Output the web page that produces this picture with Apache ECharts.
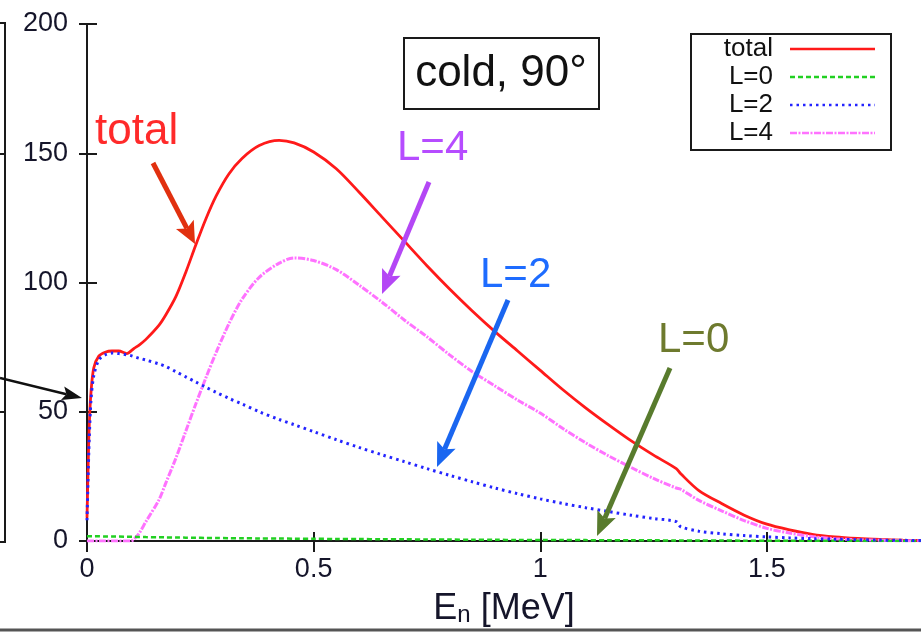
<!DOCTYPE html>
<html>
<head>
<meta charset="utf-8">
<script src="https://cdn.jsdelivr.net/npm/echarts@6/dist/echarts.min.js"></script>
<style>
  html, body { margin: 0; padding: 0; background: #fff; }
  #chart { width: 921px; height: 632px; }
</style>
</head>
<body>
<div id="chart"></div>
<script>
// Neutron energy grid [MeV] shared by all curves
const energy = [0, 0.002, 0.005, 0.009, 0.015, 0.026, 0.04, 0.055, 0.07, 0.088,
  0.097, 0.104, 0.115, 0.13, 0.159, 0.174, 0.196, 0.218, 0.24, 0.262,
  0.285, 0.313, 0.342, 0.38, 0.424, 0.457, 0.5, 0.55, 0.6, 0.65,
  0.7, 0.75, 0.8, 0.85, 0.9, 0.95, 1.0, 1.05, 1.1, 1.15,
  1.2, 1.25, 1.3, 1.31, 1.35, 1.4, 1.45, 1.5, 1.55, 1.6,
  1.65, 1.7, 1.75, 1.8, 1.84];

// Spectrum components
const totalYield = [9, 25, 45, 58, 67, 71.5, 73, 73.5, 73.5, 72.5,
  73.5, 74.5, 75.8, 78, 83.5, 87.5, 94.5, 104, 114.5, 124.5,
  133.5, 142, 148, 153, 155, 154, 150.5, 144, 135, 125.5,
  116, 106.5, 97.5, 89, 81, 73.5, 66, 58.5, 51.5, 45,
  38.8, 33.2, 28, 26, 19.5, 14.5, 10, 6.5, 4.3, 2.6,
  1.6, 1.0, 0.6, 0.3, 0.2];

const yieldL0 = [1.8, 1.8, 1.8, 1.8, 1.8, 1.8, 1.75, 1.7, 1.7, 1.65,
  1.6, 1.6, 1.55, 1.5, 1.45, 1.4, 1.35, 1.3, 1.25, 1.2,
  1.15, 1.1, 1.05, 1.0, 0.95, 0.9, 0.85, 0.8, 0.75, 0.7,
  0.65, 0.6, 0.55, 0.5, 0.45, 0.42, 0.4, 0.37, 0.34, 0.31,
  0.28, 0.25, 0.22, 0.21, 0.19, 0.16, 0.14, 0.12, 0.1, 0.08,
  0.06, 0.05, 0.04, 0.03, 0.02];

const yieldL2 = [8, 22, 40, 55, 64, 70, 72, 72.7, 72.5, 72,
  71.7, 71.3, 70.7, 70, 68.5, 67.5, 65.5, 63.5, 61.5, 59.5,
  57.5, 55.2, 53, 50, 47, 45, 42.3, 39.2, 36.2, 33.4,
  30.7, 28, 25.4, 22.9, 20.5, 18.3, 16.3, 14.5, 12.9, 11.4,
  10, 8.7, 7.5, 5.5, 3.8, 2.8, 2.1, 1.6, 1.2, 0.9,
  0.7, 0.5, 0.35, 0.25, 0.2];

const yieldL4 = [0, 0, 0, 0, 0, 0, 0, 0, 0, 0,
  0, 0.8, 3, 7.5, 16, 22.5, 32, 42.5, 53, 63,
  73, 84, 93.5, 102, 107.5, 109.5, 108.5, 105, 99, 92.5,
  85.5, 79, 72, 65.5, 60, 54.5, 49.5, 43.5, 38, 33,
  28.5, 24.2, 20.5, 20, 15.7, 11.7, 7.9, 4.9, 3.1, 1.7,
  0.9, 0.5, 0.25, 0.1, 0.05];

const seriesNames = ['total', 'L=0', 'L=2', 'L=4'];
const yTickValues = [0, 50, 100, 150, 200];
const xTickValues = [0, 0.5, 1, 1.5];

const FONT = '"Liberation Sans", Arial, Helvetica, sans-serif';
const pairs = (ys) => energy.map((e, i) => [e, ys[i]]);

// Straight arrow with a filled, slightly notched head
function arrow(x1, y1, x2, y2, color, width, headLen, headHalf) {
  const dx = x2 - x1, dy = y2 - y1, len = Math.hypot(dx, dy);
  const ux = dx / len, uy = dy / len, nx = -uy, ny = ux;
  const bx = x2 - ux * headLen, by = y2 - uy * headLen;
  const notchX = x2 - ux * headLen * 0.8, notchY = y2 - uy * headLen * 0.8;
  return [
    { type: 'line', z: 50, silent: true,
      shape: { x1: x1, y1: y1, x2: notchX, y2: notchY },
      style: { stroke: color, lineWidth: width } },
    { type: 'polygon', z: 50, silent: true,
      shape: { points: [[x2, y2], [bx + nx * headHalf, by + ny * headHalf],
                        [notchX, notchY], [bx - nx * headHalf, by - ny * headHalf]] },
      style: { fill: color } }
  ];
}

function label(text, x, y, color, size) {
  return { type: 'text', z: 50, silent: true, x: x, y: y,
    style: { text: text, fill: color, font: size + 'px ' + FONT,
             textAlign: 'left', textVerticalAlign: 'middle' } };
}

const chart = echarts.init(document.getElementById('chart'), null, { renderer: 'canvas' });

const axisLineStyle = { color: '#1a1a1a', width: 2 };

chart.setOption({
  animation: false,
  backgroundColor: '#fff',
  grid: { left: 87, right: -1, top: 24, bottom: 91, containLabel: false },
  legend: {
    orient: 'vertical', align: 'right',
    left: 711, top: 36, padding: 0, itemGap: 2,
    itemWidth: 85, itemHeight: 24,
    selectedMode: false,
    data: seriesNames,
    lineStyle: { width: 2.5 },
    itemStyle: { opacity: 0, borderWidth: 0 },
    textStyle: { fontFamily: FONT, fontSize: 26, color: '#111',
                 width: 62, lineHeight: 24, padding: [0, 12, 0, 0] }
  },
  xAxis: [
    { type: 'value', position: 'bottom', min: 0, max: 1.84, interval: 0.5,
      axisLine: { lineStyle: axisLineStyle },
      axisTick: { inside: true, length: 9, lineStyle: { color: '#1a1a1a', width: 2 },
                  customValues: xTickValues },
      axisLabel: { fontFamily: FONT, fontSize: 27, color: '#15152a', margin: 15,
                   customValues: xTickValues },
      splitLine: { show: false },
      name: '{e|E}{n|n}{e| [MeV]}', nameLocation: 'middle', nameGap: 50,
      nameTextStyle: { rich: {
        e: { fontFamily: FONT, fontSize: 36, color: '#15152a' },
        n: { fontFamily: FONT, fontSize: 24, color: '#15152a', verticalAlign: 'bottom', padding: [12, 0, 0, 0] }
      } } },
    { type: 'value', position: 'top', min: 0, max: 1.84, interval: 0.5,
      axisLine: { lineStyle: axisLineStyle },
      axisTick: { inside: true, length: 11, lineStyle: { color: '#1a1a1a', width: 2 },
                  customValues: xTickValues },
      axisLabel: { show: false },
      splitLine: { show: false } }
  ],
  yAxis: [
    { type: 'value', position: 'left', min: 0, max: 200, interval: 50,
      axisLine: { show: true, lineStyle: axisLineStyle },
      axisTick: { inside: true, length: 10, lineStyle: { color: '#1a1a1a', width: 2 },
                  customValues: yTickValues },
      axisLabel: { fontFamily: FONT, fontSize: 27, color: '#15152a', margin: 19,
                   customValues: yTickValues },
      splitLine: { show: false } },
    { type: 'value', position: 'right', min: 0, max: 200, interval: 50,
      axisLine: { show: true, lineStyle: axisLineStyle },
      axisTick: { inside: true, length: 8, lineStyle: { color: '#1a1a1a', width: 2 } },
      axisLabel: { show: false },
      splitLine: { show: false } }
  ],
  series: [
    { name: 'total', type: 'line', data: pairs(totalYield), z: 2,
      showSymbol: false, symbol: 'none', smooth: 0.3,
      lineStyle: { color: '#ff1a1a', width: 2.8 }, itemStyle: { color: '#ff1a1a' } },
    { name: 'L=0', type: 'line', data: pairs(yieldL0), z: 4,
      showSymbol: false, symbol: 'none', smooth: 0.3,
      lineStyle: { color: '#22d022', width: 2.5, type: [5, 3] }, itemStyle: { color: '#22d022' } },
    { name: 'L=2', type: 'line', data: pairs(yieldL2), z: 5,
      showSymbol: false, symbol: 'none', smooth: 0.3,
      lineStyle: { color: '#2424ff', width: 3, type: [2.5, 4] }, itemStyle: { color: '#2424ff' } },
    { name: 'L=4', type: 'line', data: pairs(yieldL4), z: 3,
      showSymbol: false, symbol: 'none', smooth: 0.3,
      lineStyle: { color: '#ff72ff', width: 3, type: [7, 1.5, 2, 1.5] }, itemStyle: { color: '#ff72ff' } }
  ],
  graphic: [
    // legend frame
    { type: 'rect', z: 40, silent: true, shape: { x: 691, y: 34, width: 200, height: 116 },
      style: { fill: 'none', stroke: '#1a1a1a', lineWidth: 2 } },
    // condition box
    { type: 'rect', z: 40, silent: true, shape: { x: 404, y: 38, width: 195, height: 71 },
      style: { fill: '#fff', stroke: '#1a1a1a', lineWidth: 2 } },
    { type: 'text', z: 41, silent: true, x: 501, y: 74,
      style: { text: 'cold, 90°', fill: '#111', font: '44px ' + FONT,
               textAlign: 'center', textVerticalAlign: 'middle' } },
    // component labels and pointers
    label('total', 95, 132, '#ff2a2a', 44),
    ...arrow(153, 163, 195, 244, '#e1300f', 5, 22, 10),
    label('L=4', 397, 148, '#b64cff', 42),
    ...arrow(429, 182, 382, 294, '#b447f5', 5, 24, 10),
    label('L=2', 480, 275, '#1e6cff', 42),
    ...arrow(508, 300, 437, 467, '#1a66f0', 5, 24, 10),
    label('L=0', 658, 340, '#6e7a2e', 42),
    ...arrow(670, 368, 597, 536, '#587b2d', 5, 24, 10),
    // neighbouring panel edge and its pointer
    { type: 'polyline', z: 40, silent: true,
      shape: { points: [[0, 23], [5, 23], [5, 542], [0, 542]] },
      style: { stroke: '#1a1a1a', lineWidth: 2, fill: null } },
    { type: 'line', z: 40, silent: true, shape: { x1: 0, y1: 154, x2: 5, y2: 154 },
      style: { stroke: '#1a1a1a', lineWidth: 2 } },
    { type: 'line', z: 40, silent: true, shape: { x1: 0, y1: 412, x2: 5, y2: 412 },
      style: { stroke: '#1a1a1a', lineWidth: 2 } },
    ...arrow(0, 378, 82, 398, '#111', 2.5, 20, 7),
    // figure bottom rule
    { type: 'line', z: 40, silent: true, shape: { x1: 0, y1: 630, x2: 921, y2: 630 },
      style: { stroke: '#555', lineWidth: 3 } }
  ]
});
</script>
</body>
</html>
